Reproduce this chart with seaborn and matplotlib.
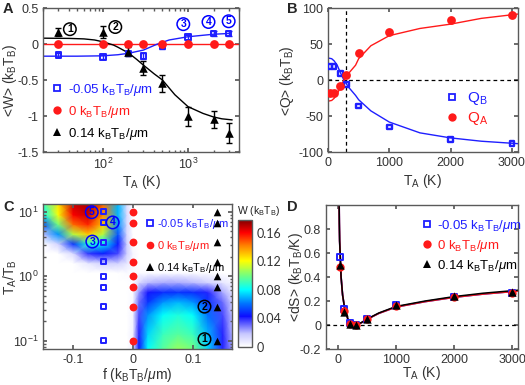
import numpy as np
import pandas as pd
import matplotlib
matplotlib.use("Agg")
import matplotlib.pyplot as plt
import seaborn as sns
from matplotlib.colors import LinearSegmentedColormap
from matplotlib.lines import Line2D

# ------------------------------------------------------------------ data
TA = [30, 100, 200, 300, 500, 1000, 2000, 3000]

# Panel A : <W>
W_neg = [-0.15, -0.18, -0.13, -0.16, -0.03, 0.10, 0.15, 0.15]
W_neg_err = [0.03, 0.03, 0.03, 0.04, 0.03, 0.035, 0.035, 0.03]
W_zero = [0, 0, 0, 0, 0, 0, 0, 0]
W_pos = [0.17, 0.17, -0.10, -0.33, -0.54, -1.00, -1.04, -1.23]
W_pos_err = [0.06, 0.085, 0.06, 0.10, 0.12, 0.13, 0.12, 0.14]
fitA_pos_x = [20, 40, 60, 80, 100, 133, 150, 200, 250, 300, 400, 500, 700, 1000, 1500, 2000, 2500, 3300]
fitA_pos_y = [0.085, 0.082, 0.075, 0.06, 0.035, -0.01, -0.04, -0.12, -0.21, -0.29, -0.41, -0.495, -0.70, -0.866, -0.96, -1.01, -1.035, -1.05]
fitA_neg_x = [20, 50, 100, 150, 200, 300, 430, 600, 1000, 2000, 3000]
fitA_neg_y = [-0.165, -0.165, -0.16, -0.145, -0.125, -0.08, 0.0, 0.06, 0.105, 0.14, 0.15]
fitA_zero_x = [20, 4000]
fitA_zero_y = [0, 0]

# Panel B : <Q>
Q_B = [19, 19, 9.8, -6, -35.5, -65, -82, -88]
Q_A = [-18, -18, -7.5, 8, 38, 67, 84, 91]
fitB_x = [0, 60, 100, 150, 200, 250, 300, 350, 450, 500, 700, 1000, 1500, 2000, 2500, 3100]
fitB_QB = [31, 30, 27, 21, 11, 2, -5, -11, -21, -27, -42.5, -58, -73, -80, -84.6, -88]
fitB_QA = [-29, -28, -25, -19, -10, -1, 5, 11, 21, 30, 48, 62, 72, 78, 86, 92]

# Panel C : W map over (f, T_A/T_B)
f_values = [-0.05, 0.0, 0.14]
ratio = [0.1, 0.333, 0.667, 1.0, 1.667, 3.333, 6.667, 10.0]
map_f = [-0.15, -0.125, -0.1, -0.075, -0.05, -0.025, -0.01, 0.0,
         0.01, 0.025, 0.05, 0.075, 0.1, 0.125, 0.15, 0.165]
map_logr = [-1.13, -0.9, -0.6, -0.4, -0.25, -0.1, 0.05, 0.2, 0.35, 0.5, 0.65, 0.8, 0.95, 1.11]
map_W = [
    [0, 0, 0, 0, 0, 0, 0, 0.005, 0.045, 0.08, 0.095, 0.105, 0.10, 0.075, 0.04, 0.025],
    [0, 0, 0, 0, 0, 0, 0, 0.005, 0.04, 0.075, 0.09, 0.095, 0.09, 0.07, 0.04, 0.022],
    [0, 0, 0, 0, 0, 0, 0, 0.004, 0.035, 0.065, 0.08, 0.085, 0.08, 0.06, 0.035, 0.02],
    [0, 0, 0, 0, 0, 0, 0, 0.003, 0.03, 0.05, 0.065, 0.07, 0.065, 0.05, 0.03, 0.016],
    [0, 0, 0, 0, 0, 0, 0, 0.002, 0.025, 0.042, 0.048, 0.05, 0.048, 0.04, 0.022, 0.01],
    [0, 0, 0, 0, 0, 0, 0, 0.001, 0.012, 0.02, 0.022, 0.022, 0.02, 0.015, 0.008, 0.004],
    [0, 0, 0, 0, 0, 0, 0.002, 0.002, 0.002, 0.002, 0.002, 0.002, 0.002, 0.001, 0, 0],
    [0, 0, 0, 0.008, 0.015, 0.015, 0.008, 0.002, 0, 0, 0, 0, 0, 0, 0, 0],
    [0, 0, 0.012, 0.038, 0.045, 0.035, 0.015, 0.003, 0, 0, 0, 0, 0, 0, 0, 0],
    [0, 0.015, 0.05, 0.085, 0.078, 0.045, 0.015, 0, 0, 0, 0, 0, 0, 0, 0, 0],
    [0.02, 0.065, 0.11, 0.13, 0.11, 0.055, 0.012, 0, 0, 0, 0, 0, 0, 0, 0, 0],
    [0.055, 0.10, 0.145, 0.155, 0.13, 0.065, 0.012, 0, 0, 0, 0, 0, 0, 0, 0, 0],
    [0.08, 0.12, 0.16, 0.167, 0.14, 0.07, 0.012, 0, 0, 0, 0, 0, 0, 0, 0, 0],
    [0.09, 0.125, 0.167, 0.172, 0.145, 0.07, 0.01, 0, 0, 0, 0, 0, 0, 0, 0, 0],
]
cbar_ticks = [0, 0.04, 0.08, 0.12, 0.16]
cbar_labels = ["0", "0.04", "0.08", "0.12", "0.16"]

# Panel D : <dS>
dS_neg = [0.57, 0.13, 0.015, 0.0, 0.05, 0.165, 0.235, 0.268]
dS_zero = [0.48, 0.115, 0.01, 0.0, 0.05, 0.155, 0.232, 0.265]
dS_pos = [0.50, 0.105, 0.012, 0.0, 0.052, 0.165, 0.245, 0.275]
fitD_x = [17, 20, 25, 35, 50, 76, 116, 173, 250, 300, 400, 500, 700, 1000, 1500, 2000, 2500, 3100]
fitD_pos = [1.0, 0.85, 0.7, 0.58, 0.4, 0.25, 0.125, 0.042, 0.01, 0.003, 0.02, 0.05, 0.10, 0.155, 0.20, 0.237, 0.265, 0.29]
fitD_zero = [1.0, 0.85, 0.7, 0.58, 0.4, 0.25, 0.125, 0.042, 0.01, 0.003, 0.019, 0.048, 0.097, 0.150, 0.195, 0.231, 0.258, 0.283]

# annotations (circled labels)
annA = [("1", 41, 0.21, "black"), ("2", 140, 0.24, "black"),
        ("3", 880, 0.28, "blue"), ("4", 1740, 0.31, "blue"), ("5", 3000, 0.32, "blue")]
annC = [("5", -0.069, 9.8, "blue"), ("4", -0.034, 6.8, "blue"), ("3", -0.068, 3.43, "blue"),
        ("2", 0.1195, 0.336, "black"), ("1", 0.1195, 0.105, "black")]

unit = "k$_B$T$_B$/$\\mathit{\\mu}$m"
labels3 = ["-0.05 " + unit, "0 " + unit, "0.14 " + unit]

# ------------------------------------------------------------------ style
sns.set_theme(style="ticks")
plt.rcParams.update({
    "font.family": ["Liberation Sans", "DejaVu Sans"],
    "font.size": 9,
    "axes.unicode_minus": False,
    "mathtext.fontset": "custom",
    "mathtext.rm": "Liberation Sans",
    "mathtext.it": "Liberation Sans:italic",
    "mathtext.bf": "Liberation Sans:bold",
    "mathtext.default": "regular",
    "xtick.direction": "in", "ytick.direction": "in",
    "xtick.top": True, "ytick.right": True,
    "axes.edgecolor": "#5a5a5a", "axes.linewidth": 1.0,
    "xtick.color": "#5a5a5a", "ytick.color": "#5a5a5a",
    "xtick.labelcolor": "#333333", "ytick.labelcolor": "#333333",
    "axes.labelcolor": "#333333",
    "xtick.major.size": 3, "ytick.major.size": 3,
    "xtick.minor.size": 1.8, "ytick.minor.size": 1.8,
    "xtick.labelsize": 9, "ytick.labelsize": 9,
    "axes.labelsize": 10,
})

BLUE = "#1f1fff"
RED = "#ff1a1a"

W, H = 525, 385
fig = plt.figure(figsize=(W / 100, H / 100), dpi=100)


def box(l, t, r, b):
    return [l / W, 1 - b / H, (r - l) / W, (b - t) / H]


axA = fig.add_axes(box(43.3, 8.3, 239.3, 152.3))
axB = fig.add_axes(box(328, 8.3, 518, 152.3))
axC = fig.add_axes(box(43.3, 204.3, 231.7, 349))
cax = fig.add_axes(box(238.3, 220, 251.7, 346.7))
axD = fig.add_axes(box(326, 205, 518, 349))


def circ(ax, txt, x, y, c):
    ax.text(x, y, txt, color=c, fontsize=7.5, fontweight="bold", ha="center", va="center",
            bbox=dict(boxstyle="circle,pad=0.12", fc="none", ec=c, lw=1.1), zorder=10)


def markers(ax, x, y, kind, s=None, lw=1.4):
    if kind == "sq":
        sns.scatterplot(x=x, y=y, ax=ax, marker="s", s=s or 16, color=BLUE,
                        facecolor="none", edgecolor=BLUE, linewidth=lw, zorder=5)
    elif kind == "ci":
        sns.scatterplot(x=x, y=y, ax=ax, marker="o", s=s or 36, color=RED,
                        edgecolor=RED, linewidth=0, zorder=5)
    else:
        sns.scatterplot(x=x, y=y, ax=ax, marker="^", s=s or 34, color="black",
                        edgecolor="black", linewidth=0, zorder=6)


def handles(ss=4.5, sc=6, st=6):
    return [Line2D([], [], ls="none", marker="s", ms=ss, mfc="none", mec=BLUE, mew=1.3),
            Line2D([], [], ls="none", marker="o", ms=sc, mfc=RED, mec=RED, mew=0),
            Line2D([], [], ls="none", marker="^", ms=st, mfc="black", mec="black", mew=0)]


def place_labels(ax, ylx, xly):
    ax.yaxis.set_label_coords(ylx, 0.5)
    ax.xaxis.set_label_coords(0.5, xly)
    ax.xaxis.label.set_va("center")
    ax.yaxis.label.set_va("center")


# ------------------------------------------------------------------ A
sns.lineplot(x=fitA_zero_x, y=fitA_zero_y, ax=axA, color=RED, lw=1, estimator=None, sort=False)
sns.lineplot(x=fitA_neg_x, y=fitA_neg_y, ax=axA, color=BLUE, lw=1, estimator=None, sort=False)
sns.lineplot(x=fitA_pos_x, y=fitA_pos_y, ax=axA, color="black", lw=1, estimator=None, sort=False)
axA.errorbar(TA, W_neg, yerr=W_neg_err, fmt="none", ecolor=BLUE, elinewidth=1, capsize=2.5, capthick=1)
axA.errorbar(TA, W_pos, yerr=W_pos_err, fmt="none", ecolor="black", elinewidth=1, capsize=2.5, capthick=1)
markers(axA, TA, W_neg, "sq")
markers(axA, TA, W_zero, "ci", s=40)
markers(axA, TA, W_pos, "tr", s=38)
axA.set_xscale("log")
axA.set_xlim(20, 4000)
axA.set_ylim(-1.5, 0.5)
axA.set_yticks([-1.5, -1, -0.5, 0, 0.5])
axA.set_yticklabels(["-1.5", "-1", "-0.5", "0", "0.5"])
axA.set_xlabel("T$_A$ (K)")
axA.set_ylabel("<W> (k$_B$T$_B$)")
place_labels(axA, (10 - 43.3) / 196, (152.3 - 182) / 144)
for t, x, y, c in annA:
    circ(axA, t, x, y, c)
axA.legend(handles(), labels3, loc="upper left", bbox_to_anchor=(0.043, 0.49), frameon=False,
           fontsize=9.5, handlelength=0.8, handletextpad=0.4, labelspacing=0.45,
           borderpad=0, borderaxespad=0, labelcolor=[BLUE, RED, "black"])

# ------------------------------------------------------------------ B
axB.axhline(0, color="black", lw=0.9, ls=(0, (3, 2.5)), zorder=1)
axB.axvline(300, color="black", lw=0.9, ls=(0, (3, 2.5)), zorder=1)
sns.lineplot(x=fitB_x, y=fitB_QB, ax=axB, color=BLUE, lw=1, estimator=None, sort=False)
sns.lineplot(x=fitB_x, y=fitB_QA, ax=axB, color=RED, lw=1, estimator=None, sort=False)
markers(axB, TA, Q_B, "sq", s=11, lw=1.7)
markers(axB, TA, Q_A, "ci", s=40)
axB.set_xlim(0, 3100)
axB.set_ylim(-100, 100)
axB.set_xticks([0, 1000, 2000, 3000])
axB.set_yticks([-100, -50, 0, 50, 100])
axB.set_xlabel("T$_A$ (K)")
axB.set_ylabel("<Q> (k$_B$T$_B$)")
place_labels(axB, (287 - 328) / 190, (152.3 - 181) / 144)
hB = handles()[:2]
axB.legend(hB, ["Q$_B$", "Q$_A$"], loc="upper left", bbox_to_anchor=(0.62, 0.43), frameon=False,
           fontsize=11, handlelength=0.8, handletextpad=0.6, labelspacing=0.2,
           borderpad=0, borderaxespad=0, labelcolor=[BLUE, RED])

# ------------------------------------------------------------------ C
cmap = LinearSegmentedColormap.from_list("wjet", [
    (0.0, (1, 1, 1)), (0.1, (0.78, 0.78, 1.0)), (0.24, (0.05, 0.05, 1.0)),
    (0.34, (0.0, 0.45, 1.0)), (0.45, (0.0, 1.0, 1.0)), (0.56, (0.45, 1.0, 0.5)),
    (0.68, (1.0, 1.0, 0.0)), (0.8, (1.0, 0.5, 0.0)), (0.9, (1.0, 0.0, 0.0)),
    (1.0, (0.5, 0.0, 0.0))])
FF, RR = np.meshgrid(np.array(map_f), 10.0 ** np.array(map_logr))
mesh = axC.pcolormesh(FF, RR, np.array(map_W), shading="gouraud", cmap=cmap, vmin=0, vmax=0.178,
                      zorder=0)
axC.set_yscale("log")
for fv, kind in zip(f_values, ["sq", "ci", "tr"]):
    markers(axC, [fv] * len(ratio), ratio, kind,
            s={"sq": 13, "ci": 32, "tr": 30}[kind])
axC.set_xlim(-0.15, 0.165)
axC.set_ylim(0.074, 13)
axC.set_xticks([-0.1, 0, 0.1])
axC.set_xticklabels(["-0.1", "0", "0.1"])
axC.set_xlabel("f (" + unit + ")")
axC.set_ylabel("T$_A$/T$_B$")
place_labels(axC, (10 - 43.3) / 188.4, (349 - 375.5) / 144.7)
for t, x, y, c in annC:
    circ(axC, t, x, y, c)
axC.legend(handles(4, 5.5, 5.5), labels3, loc="upper left", bbox_to_anchor=(0.55, 0.915),
           frameon=False, fontsize=8, handlelength=0.6, handletextpad=0.3, labelspacing=0.75,
           borderpad=0, borderaxespad=0, labelcolor=[BLUE, RED, "black"])

cb = fig.colorbar(mesh, cax=cax, ticks=cbar_ticks)
cb.ax.set_yticklabels(cbar_labels, fontfamily="Lato", fontsize=9)
cb.ax.tick_params(direction="in", length=2, right=True, left=False)
cb.outline.set_edgecolor("#5a5a5a")
fig.text(237 / W, 1 - 211 / H, "W (k$_B$T$_B$)", fontsize=7.5, ha="left", va="center",
         color="#222222")

# ------------------------------------------------------------------ D
axD.axhline(0, color="black", lw=0.9, ls=(0, (3, 2.5)), zorder=1)
sns.lineplot(x=fitD_x, y=fitD_zero, ax=axD, color=BLUE, lw=1.2, estimator=None, sort=False)
sns.lineplot(x=fitD_x, y=fitD_zero, ax=axD, color=RED, lw=1.2, estimator=None, sort=False)
sns.lineplot(x=fitD_x, y=fitD_pos, ax=axD, color="black", lw=1.1, estimator=None, sort=False)
markers(axD, TA, dS_neg, "sq", s=18)
markers(axD, TA, dS_zero, "ci", s=36)
markers(axD, TA, dS_pos, "tr", s=36)
axD.set_xlim(-210, 3100)
axD.set_ylim(-0.2, 1.0)
axD.set_xticks([0, 1000, 2000, 3000])
axD.set_yticks([-0.2, 0, 0.2, 0.4, 0.6, 0.8])
axD.set_yticklabels(["-0.2", "0", "0.2", "0.4", "0.6", "0.8"])
axD.set_xlabel("T$_A$ (K)")
axD.set_ylabel("<dS> (k$_B$T$_B$/K)")
place_labels(axD, (296 - 326) / 192, (349 - 373) / 144)
axD.legend(handles(), labels3, loc="upper left", bbox_to_anchor=(0.498, 0.91), frameon=False,
           fontsize=9.5, handlelength=0.8, handletextpad=0.4, labelspacing=0.3,
           borderpad=0, borderaxespad=0, labelcolor=[BLUE, RED, "black"])

# panel letters
for txt, x, y in [("A", 3, 2), ("B", 287, 2), ("C", 3, 200), ("D", 287, 200)]:
    fig.text(x / W, 1 - y / H, txt, fontsize=10.5, fontweight="bold", ha="left", va="top")

fig.savefig("out.png", dpi=100)
